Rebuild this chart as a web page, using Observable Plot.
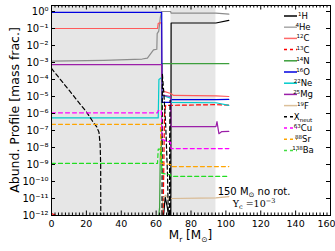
<!DOCTYPE html>
<html><head><meta charset="utf-8">
<script src="https://cdn.jsdelivr.net/npm/d3@7"></script>
<script src="https://cdn.jsdelivr.net/npm/@observablehq/plot@0.6"></script>
<style>body{margin:0;background:#fff} svg{display:block}</style>
</head><body><div id="chart"></div>
<script>
// ---- data ----
const xTicks = [0, 20, 40, 60, 80, 100, 120, 140, 160];
const yTicks = [1, 1e-1, 1e-2, 1e-3, 1e-4, 1e-5, 1e-6, 1e-7, 1e-8, 1e-9, 1e-10, 1e-11, 1e-12];
const shadeStart = [0, 68.5];
const shadeEnd = [63.2, 94.3];

const H1 = [[63.4,1e-14],[64.3,1e-12],[65.2,1.2e-11],[66.2,4e-12],[67.2,1e-12],[68,1e-14],[NaN,NaN],[68.4,1e-14],[68.6,0.21],[94.3,0.21],[101.7,0.3]];
const He4 = [[0,1.2e-3],[30,1.35e-3],[52,1.6e-3],[55,1.8e-3],[58.5,5.5e-3],[60.4,6e-3],[60.6,0.05],[61.5,0.07],[62.5,0.5],[63.2,1],[68.3,1],[68.6,0.8],[94.3,0.8],[101.7,0.7]];
const C12 = [[0,0.1],[60.8,0.1],[61.2,0.2],[63.1,0.22],[63.3,3e-5],[64.5,2e-5],[68.4,1.5e-5],[70,1.15e-5],[94.3,1.1e-5],[101.7,1.0e-5]];
const C13 = [[0,1.3e-12],[3,1e-12],[4,1e-14],[NaN,NaN],[63.8,1e-14],[64.3,1e-10],[64.8,1e-6],[65.5,3e-6],[94.3,3.3e-6],[101.7,3.1e-6]];
const N14 = [[61.2,1e-14],[61.5,1e-12],[62,3e-12],[62.3,1e-9],[62.6,1e-8],[63.1,1.2e-8],[63.3,8.5e-4],[101.7,8.5e-4]];
const O16 = [[0,0.88],[63.2,0.88],[63.4,4.5e-6],[68.3,4.5e-6],[68.6,6.5e-6],[94.3,6.5e-6],[101.7,6.8e-6]];
const Ne22 = [[0,5.5e-7],[61.2,5.5e-7],[61.6,1e-4],[63.2,1.3e-4],[63.4,1.2e-5],[68.3,8e-6],[68.6,4.5e-6],[94.3,4.3e-6],[101.7,3e-6]];
const Mg25 = [[0,7.5e-4],[63.2,7.5e-4],[63.4,1.2e-5],[68.3,1e-5],[68.5,1.7e-7],[94.3,1.7e-7],[94.9,3.3e-7],[96,6.5e-8],[97.7,8.7e-8],[101.7,9e-8]];
const F19 = [[63,1e-14],[63.8,1e-11],[65.5,1.6e-11],[67.5,8e-12],[68.5,1e-11],[94.3,1.1e-11],[101.7,1.3e-11]];
const Xneut = [[0,4.5e-4],[5,1.03e-4],[10,2.4e-5],[15,5.4e-6],[20,1.25e-6],[24,3e-7],[26,1.6e-7],[27.2,8e-8],[27.9,1.5e-8],[28.2,1e-9],[28.3,1e-14],[NaN,NaN],[63.3,1e-14],[63.6,2e-4],[64.5,1.2e-5],[65.5,2e-7],[66.5,3e-10],[67.2,1e-13],[NaN,NaN],[67.6,1e-14],[67.8,1e-7],[68,6e-6],[68.2,1e-14]];
const Cu63 = [[0,1.1e-6],[60.8,1.1e-6],[61.2,1.5e-6],[63,1.5e-6],[63.4,3e-8],[68.3,2e-8],[68.5,8.7e-9],[101.7,8.7e-9]];
const Sr88 = [[0,2.3e-7],[62.5,2.3e-7],[62.8,1.2e-9],[68.3,1e-9],[68.5,7.6e-10],[101.7,7.6e-10]];
const Ba138 = [[0,1.15e-9],[60.8,1.15e-9],[61.2,8e-9],[63,8e-9],[63.3,3e-10],[68.3,2.5e-10],[68.5,2e-10],[101.7,2e-10]];

const seriesData = [H1, He4, C12, C13, N14, O16, Ne22, Mg25, F19, Xneut, Cu63, Sr88, Ba138];
const legendSup = ["1","4","12","13","14","16","22","25","19","","63","88","138"];
const legendBase = ["H","He","C","C","N","O","Ne","Mg","F","X","Cu","Sr","Ba"];
const legendSub = ["","","","","","","","","","neut","","",""];

// ---- styles ----
const colors = ["#000000","#8c8c8c","#ff5a5a","#ff0000","#3c9f3c","#0000e0","#00cccc","#9b1fa8","#d8b88f","#000000","#ff00ff","#ffa500","#22dd22"];
const legendColors = ["#000000","#a8a8a8","#ff6a6a","#ff0000","#3c9f3c","#0000e0","#00cccc","#9b1fa8","#dcc09a","#000000","#ff00ff","#ffa500","#44dd44"];
const dashed = [false,false,false,true,false,false,false,false,false,true,true,true,true];

const supMap = {"0":"⁰","1":"¹","2":"²","3":"³","4":"⁴","5":"⁵","6":"⁶","7":"⁷","8":"⁸","9":"⁹","-":"⁻"};
const fmtY = d => "10" + String(Math.round(Math.log10(d))).split("").map(c => supMap[c]).join("");

const W = 335, H = 251, mL = 51, mR = 5, mT = 5, mB = 36;
const fw = W - mL - mR, fh = H - mT - mB;

const shade = shadeStart.map((s, i) => ({start: s, end: shadeEnd[i]}));
const minorX = d3.range(0, 161, 2).filter(v => v % 20 !== 0);

const lineMarks = seriesData.map((data, i) => Plot.line(data, {
  x: d => d[0], y: d => d[1], stroke: colors[i], strokeWidth: 1.2,
  strokeDasharray: dashed[i] ? "4,3" : null, clip: true
}));

const plot = Plot.plot({
  width: W, height: H, marginLeft: mL, marginRight: mR, marginTop: mT, marginBottom: mB,
  x: {domain: [0, 160]},
  y: {type: "log", domain: [1e-12, Math.pow(10, 6/17)]},
  style: {fontFamily: "DejaVu Sans", fontSize: "10px", color: "black", background: "white"},
  marks: [
    Plot.rect(shade, {x1: "start", x2: "end", fill: "#e6e6e6"}),
    ...lineMarks,
    Plot.tickX(minorX, {x: d => d, insetTop: fh - 2.5, stroke: "black"}),
    Plot.tickX(xTicks, {x: d => d, insetTop: fh - 4.5, stroke: "black"}),
    Plot.tickX(minorX, {x: d => d, insetBottom: fh - 2.5, stroke: "black"}),
    Plot.tickX(xTicks, {x: d => d, insetBottom: fh - 4.5, stroke: "black"}),
    Plot.tickY(yTicks, {y: d => d, insetRight: fw - 4, stroke: "black"}),
    Plot.tickY(yTicks, {y: d => d, insetLeft: fw - 4, stroke: "black"}),
    Plot.axisX({ticks: xTicks.slice(0, -1), tickSize: 0, tickPadding: 5, fontSize: 9.5, label: null}),
    Plot.axisX({ticks: xTicks.slice(-1), tickSize: 0, tickPadding: 5, fontSize: 9.5, dx: -4, label: null}),
    Plot.axisY({ticks: yTicks, tickSize: 0, tickPadding: 3, tickFormat: fmtY, label: null}),
    Plot.frame({stroke: "black"})
  ]
});

const svg = d3.select(plot);
const ff = "DejaVu Sans";

// axis labels
const xl = svg.append("text").attr("x", mL + fw / 2).attr("y", 239).attr("text-anchor", "middle")
  .attr("font-family", ff).attr("font-size", 12).attr("fill", "black");
xl.append("tspan").text("M");
xl.append("tspan").attr("font-size", 7.5).attr("dy", 3).text("r");
xl.append("tspan").attr("dy", -3).text(" [M");
xl.append("tspan").attr("font-size", 7.5).attr("dy", 3).text("⊙");
xl.append("tspan").attr("dy", -3).text("]");

svg.append("text").attr("transform", `translate(19,${mT + fh / 2}) rotate(-90)`)
  .attr("text-anchor", "middle").attr("font-family", ff).attr("font-size", 12.5).attr("fill", "black")
  .text("Abund. Profile [mass frac.]");

// legend
const lg = svg.append("g");
legendBase.forEach((b, i) => {
  const y = 16 + i * 11.2;
  lg.append("line").attr("x1", 284).attr("x2", 297).attr("y1", y).attr("y2", y)
    .attr("stroke", legendColors[i]).attr("stroke-width", 1.5)
    .attr("stroke-dasharray", dashed[i] ? "3,3" : null);
  const t = lg.append("text").attr("x", 303).attr("y", y + 3).attr("font-family", ff).attr("fill", "black");
  if (legendSup[i]) {
    t.append("tspan").attr("font-size", 5.5).attr("dy", -3).text(legendSup[i]);
    t.append("tspan").attr("font-size", 8.5).attr("dy", 3).text(b);
  } else {
    t.append("tspan").attr("font-size", 8.5).text(b);
    t.append("tspan").attr("font-size", 5.5).attr("dy", 2).text(legendSub[i]);
  }
});

// annotations
const a1 = svg.append("text").attr("x", 254).attr("y", 195).attr("font-family", ff).attr("font-size", 10).attr("fill", "black");
a1.append("tspan").text("150 M");
a1.append("tspan").attr("font-size", 7).attr("dy", 2).text("⊙");
a1.append("tspan").attr("dy", -2).text(" no rot.");

const a2 = svg.append("text").attr("x", 254).attr("y", 207).attr("font-family", "DejaVu Serif").attr("font-size", 9.5).attr("fill", "black");
a2.append("tspan").text("Y");
a2.append("tspan").attr("font-size", 6.5).attr("dy", 2).text("c");
a2.append("tspan").attr("dy", -2).text(" =10");
a2.append("tspan").attr("font-size", 6.5).attr("dy", -4).text("−3");

document.getElementById("chart").appendChild(plot);
</script>
</body></html>
